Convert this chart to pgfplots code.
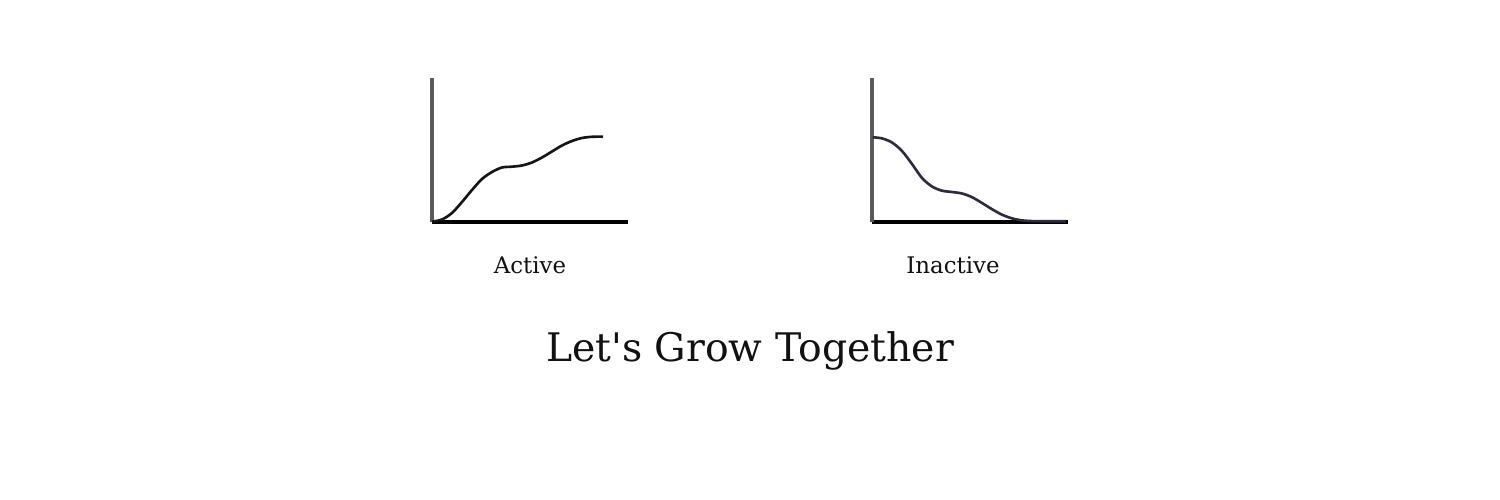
\documentclass[border=0pt]{standalone}
\usepackage{fontspec}
\setmainfont{DejaVu Serif}
\usepackage{pgfplots}
\pgfplotsset{compat=1.18}
\definecolor{activeline}{HTML}{151515}
\definecolor{inactiveline}{HTML}{2B2D3C}
\definecolor{yaxisgrey}{HTML}{5A5A5A}
\definecolor{txt}{HTML}{111111}
\pgfplotsset{
  mini/.style={
    scale only axis, width=1.96cm, height=1.44cm,
    xmin=0, xmax=196, ymin=0, ymax=144,
    axis x line=bottom, axis y line=left,
    xtick=\empty, ytick=\empty,
    x axis line style={-, color=black, line width=0.95pt},
    y axis line style={-, color=yaxisgrey, line width=0.95pt},
    clip=false, anchor=south west,
  }
}
\begin{document}
\begin{tikzpicture}
\fill[white] (0,0) rectangle (15cm,5cm);
\begin{axis}[mini, at={(4.32cm,2.78cm)}]
\addplot[activeline, line width=0.75pt, smooth] coordinates {
 (0,0.3) (10,2.5) (20,9) (30,20) (40,32) (50,43) (60,50) (70,54.5) (80,55.3)
 (90,56.5) (100,59.5) (110,64.5) (120,70.5) (130,76.5) (140,81) (150,84)
 (160,85.2) (171,85.3)
};
\end{axis}
\begin{axis}[mini, at={(8.72cm,2.78cm)}]
\addplot[inactiveline, line width=0.75pt, smooth] coordinates {
 (0.7,84.7) (10,83.6) (20,79.5) (30,71) (40,58) (50,44) (60,35.5) (70,31.3)
 (80,30) (90,28.5) (100,24.8) (110,19) (120,12.8) (130,7.3) (140,3.6)
 (150,1.6) (160,0.9) (170,0.8) (194,0.8)
};
\end{axis}
\node[anchor=base, text=txt, font=\fontsize{6.5}{8}\selectfont] at (5.30cm,2.267cm) {Active};
\node[anchor=base, text=txt, font=\fontsize{6.5}{8}\selectfont] at (9.53cm,2.267cm) {Inactive};
\node[anchor=base, text=txt, font=\fontsize{11.2}{14}\selectfont] at (7.50cm,1.383cm) {Let\textquotesingle s Grow Together};
\end{tikzpicture}
\end{document}
